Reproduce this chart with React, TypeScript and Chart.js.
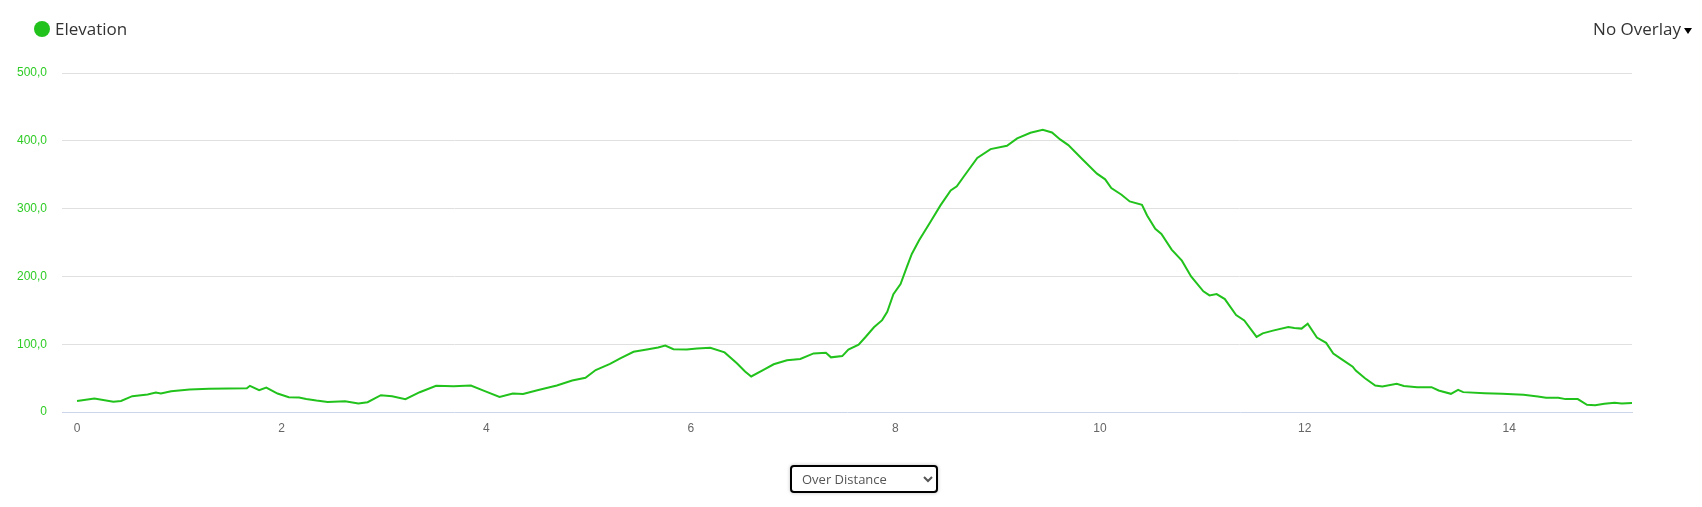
import React, { useEffect, useRef } from 'react';
import { Chart, registerables } from 'chart.js';

Chart.register(...registerables);

const distanceKm = [
  0.0, 0.17, 0.355, 0.43, 0.54, 0.69, 0.77, 0.82, 0.92, 1.1, 1.29, 1.48, 1.66, 1.69, 1.78, 1.85, 1.96,
  2.07, 2.17, 2.24, 2.34, 2.45, 2.62, 2.75, 2.84, 2.97, 3.08, 3.21, 3.35, 3.51, 3.68, 3.85, 3.98,
  4.13, 4.26, 4.36, 4.5, 4.69, 4.84, 4.97, 5.07, 5.21, 5.31, 5.44, 5.57, 5.68, 5.75, 5.83, 5.96,
  6.06, 6.19, 6.33, 6.45, 6.53, 6.59, 6.71, 6.81, 6.94, 7.07, 7.2, 7.32, 7.37, 7.48, 7.54, 7.64,
  7.71, 7.79, 7.87, 7.92, 7.98, 8.05, 8.11, 8.16, 8.23, 8.34, 8.44, 8.54, 8.6, 8.67, 8.8, 8.93,
  9.09, 9.19, 9.32, 9.44, 9.53, 9.61, 9.69, 9.82, 9.97, 10.05, 10.11, 10.21, 10.29, 10.41, 10.46,
  10.54, 10.6, 10.7, 10.8, 10.89, 11.01, 11.07, 11.14, 11.22, 11.33, 11.41, 11.53, 11.59, 11.69,
  11.84, 11.9, 11.97, 12.03, 12.12, 12.21, 12.28, 12.36, 12.47, 12.5, 12.59, 12.69, 12.76, 12.9,
  12.97, 13.1, 13.24, 13.31, 13.43, 13.5, 13.55, 13.76, 13.93, 14.14, 14.28, 14.36, 14.48, 14.55,
  14.67, 14.76, 14.84, 14.93, 15.03, 15.1, 15.2,
];

const elevationM = [
  16.3, 19.8, 15.3, 16.3, 23.3, 25.7, 28.7, 27.2, 30.7, 33.2, 34.2, 34.7, 35.1, 38.6, 32.2, 36.1, 27.2,
  21.8, 21.3, 19.3, 16.8, 14.9, 15.8, 12.4, 14.4, 24.8, 23.3, 18.8, 29.2, 38.6, 38.1, 39.1, 31.2,
  22.3, 27.2, 26.7, 32.2, 39.1, 46.5, 50.5, 61.9, 70.9, 79.1, 88.8, 92.2, 95.1, 98.1, 92.7, 92.2,
  93.7, 94.7, 87.9, 71.8, 59.7, 52.4, 62.1, 70.4, 76.2, 78.2, 86.4, 87.4, 80.6, 82.5, 92.2, 99.4,
  111, 125, 135.5, 147.7, 173.8, 188.6, 213.3, 233.1, 252.8, 280, 304.7, 326.9, 332.8, 347.7, 374.8, 387.7,
  392.6, 403.5, 411.9, 416.3, 412.3, 402, 393.6, 373.8, 351.6, 343.2, 330.4, 320.5, 310.6, 305.7, 289.9,
  270.1, 262.7, 239.5, 223.2, 200, 178, 172, 174, 166.5, 143, 135, 110.7, 116, 120,
  125.4, 124, 123, 130.2, 109.8, 102, 86.3, 78, 66.8, 61, 49.8, 39, 37.6, 41.5,
  38.5, 36.6, 36.6, 31.7, 26.8, 32.7, 29.3, 27.8, 26.8, 25.4, 22.9, 21, 21, 19,
  19, 10.7, 9.8, 12.2, 13.7, 12.7, 13.2,
];

const xTickValues = [0, 2, 4, 6, 8, 10, 12, 14];
const yTickValues = [0, 100, 200, 300, 400, 500];
const seriesName = 'Elevation';
const overlayLabel = 'No Overlay';
const modeOptions = ['Over Distance', 'Over Time'];

const GREEN = '#22c21c';
const LABEL_GREEN = '#2fcc26';
const tickFont = { family: '"Liberation Sans", Arial, sans-serif', size: 12 };

export default function App() {
  const canvasRef = useRef<HTMLCanvasElement | null>(null);

  useEffect(() => {
    if (!canvasRef.current) return;
    const chart = new Chart(canvasRef.current, {
      type: 'line',
      data: {
        datasets: [
          {
            label: seriesName,
            data: distanceKm.map((x, i) => ({ x, y: elevationM[i] })),
            borderColor: GREEN,
            backgroundColor: GREEN,
            borderWidth: 2,
            pointRadius: 0,
            tension: 0,
            fill: false,
          },
        ],
      },
      options: {
        responsive: false,
        animation: false,
        layout: { padding: { top: 73, right: 70, bottom: 0, left: 0 } },
        plugins: { legend: { display: false }, tooltip: { enabled: false } },
        scales: {
          x: {
            type: 'linear',
            min: -0.147,
            max: 15.2,
            afterBuildTicks: (s: any) => {
              s.ticks = xTickValues.map((v) => ({ value: v }));
            },
            afterFit: (s: any) => {
              s.height = 95;
            },
            grid: { display: false, drawTicks: false },
            border: { display: true, color: '#ccd6eb', width: 1 },
            ticks: {
              color: '#666666',
              font: tickFont,
              padding: 9,
              maxRotation: 0,
              autoSkip: false,
              callback: (v: any) => String(v),
            },
          },
          y: {
            type: 'linear',
            min: 0,
            max: 500,
            afterBuildTicks: (s: any) => {
              s.ticks = yTickValues.map((v) => ({ value: v }));
            },
            afterFit: (s: any) => {
              s.width = 62;
            },
            grid: {
              drawTicks: false,
              color: (c: any) => (c.tick && c.tick.value === 0 ? 'rgba(0,0,0,0)' : '#e0e0e0'),
            },
            border: { display: false },
            ticks: {
              color: LABEL_GREEN,
              font: tickFont,
              padding: 15,
              callback: (v: any) => (v === 0 ? '0' : Number(v).toFixed(1).replace('.', ',')),
            },
          },
        },
      },
    } as any);
    return () => chart.destroy();
  }, []);

  return (
    <div style={{ position: 'absolute', left: 0, top: 0, width: 1702, height: 507, background: '#fff', overflow: 'hidden' }}>
      <canvas ref={canvasRef} width={1702} height={507} style={{ position: 'absolute', left: 0, top: 0, width: 1702, height: 507 }} />
      <div
        style={{
          position: 'absolute',
          left: 34,
          top: 21,
          width: 16,
          height: 16,
          borderRadius: '50%',
          background: GREEN,
        }}
      />
      <div
        style={{
          position: 'absolute',
          left: 55,
          top: 16,
          fontFamily: '"Open Sans", sans-serif',
          fontSize: 17,
          lineHeight: '26px',
          color: '#333',
        }}
      >
        {seriesName}
      </div>
      <div
        style={{
          position: 'absolute',
          right: 10,
          top: 16,
          fontFamily: '"Open Sans", sans-serif',
          fontSize: 17,
          lineHeight: '26px',
          color: '#333',
          display: 'flex',
          alignItems: 'center',
        }}
      >
        <span>{overlayLabel}</span>
        <span
          style={{
            display: 'inline-block',
            width: 0,
            height: 0,
            marginLeft: 3,
            marginTop: 3,
            borderLeft: '4px solid transparent',
            borderRight: '4px solid transparent',
            borderTop: '6px solid #000',
          }}
        />
      </div>
      <select
        defaultValue={modeOptions[0]}
        style={{
          position: 'absolute',
          left: 790,
          top: 465,
          width: 148,
          height: 28,
          boxSizing: 'border-box',
          border: '2px solid #000',
          borderRadius: 4,
          boxShadow: '0 0 3px 1px rgba(0,0,0,0.15)',
          fontFamily: '"Open Sans", sans-serif',
          fontSize: 13,
          color: '#555',
          background: '#fff',
          paddingLeft: 6,
          outline: 'none',
        }}
      >
        {modeOptions.map((o) => (
          <option key={o} value={o}>
            {o}
          </option>
        ))}
      </select>
    </div>
  );
}
